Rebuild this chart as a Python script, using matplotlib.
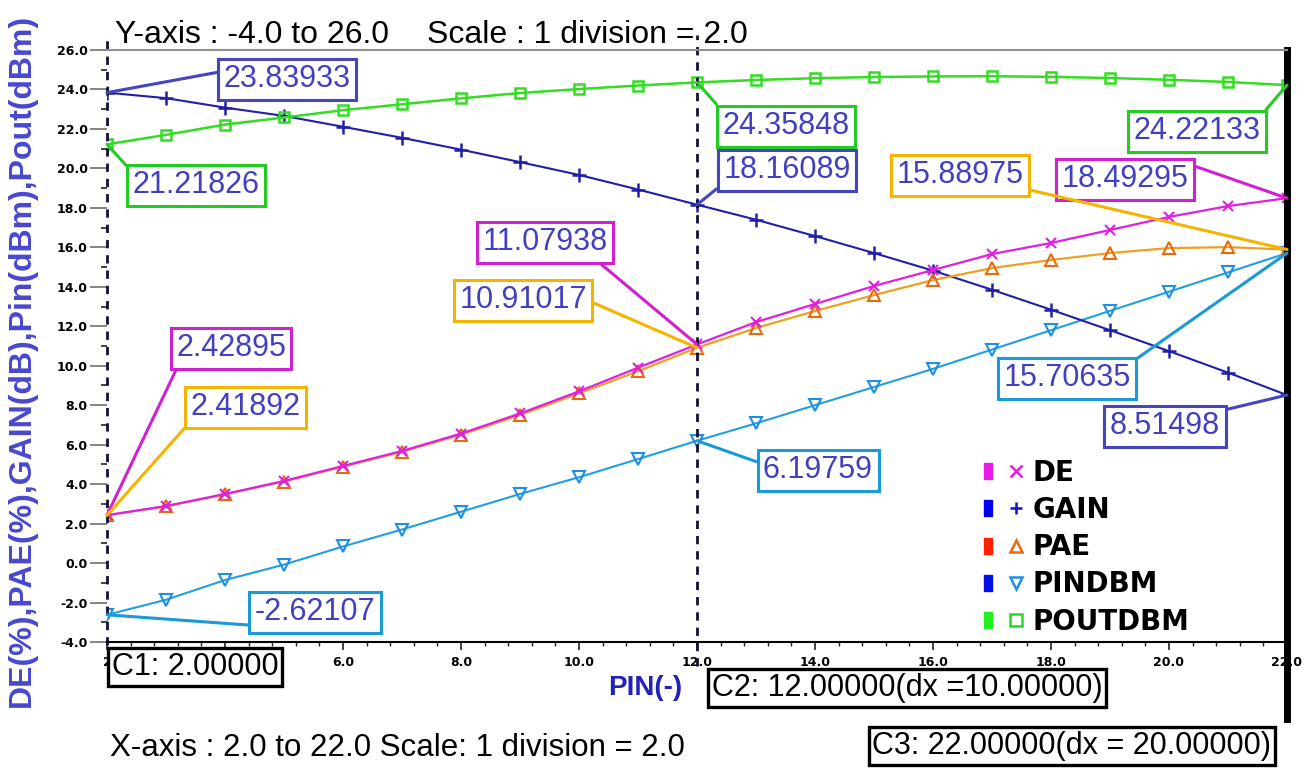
import matplotlib.pyplot as plt
from matplotlib.lines import Line2D
from matplotlib.legend_handler import HandlerTuple
from matplotlib.ticker import MultipleLocator, FormatStrFormatter, FuncFormatter

# swept input (x axis)
pin_sweep = list(range(2, 23))

# series
de = [2.42895, 2.89, 3.50, 4.16, 4.92, 5.68, 6.56, 7.58, 8.70, 9.90, 11.07938,
      12.21, 13.13, 14.04, 14.85, 15.66, 16.22, 16.88, 17.54, 18.09, 18.49295]
pae = [2.41892, 2.87, 3.48, 4.13, 4.88, 5.64, 6.50, 7.50, 8.60, 9.72, 10.91017,
       11.91, 12.77, 13.58, 14.34, 14.95, 15.36, 15.71, 15.96, 16.01, 15.88975]
gain = [23.83933, 23.56, 23.08, 22.66, 22.11, 21.55, 20.95, 20.32, 19.67, 18.93, 18.16089,
        17.40, 16.57, 15.71, 14.82, 13.85, 12.84, 11.80, 10.74, 9.65, 8.51498]
pindbm = [-2.62107, -1.86, -0.86, -0.08, 0.84, 1.70, 2.60, 3.50, 4.35, 5.27, 6.19759,
          7.08, 8.00, 8.92, 9.84, 10.82, 11.80, 12.78, 13.75, 14.73, 15.70635]
poutdbm = [21.21826, 21.70, 22.22, 22.58, 22.95, 23.25, 23.55, 23.82, 24.02, 24.20, 24.35848,
           24.48, 24.57, 24.63, 24.66, 24.67, 24.64, 24.58, 24.49, 24.38, 24.22133]

cursors = [2, 12, 22]
W, H = 1304, 769

plt.rcParams['font.family'] = ['Liberation Sans', 'DejaVu Sans']

fig = plt.figure(figsize=(W / 100, H / 100), dpi=100)
ax = fig.add_axes([107 / W, 1 - 642 / H, (1287 - 107) / W, (642 - 50) / H])

ax.plot(pin_sweep, pindbm, color='#20a0e0', lw=1.5, marker='v', ms=9, mfc='none', mec='#1f8fe0', mew=1.5)
ax.plot(pin_sweep, gain, color='#2020a8', lw=1.5, marker='+', ms=10, mew=1.8)
ax.plot(pin_sweep, poutdbm, color='#33dd22', lw=1.8, marker='s', ms=7, mfc='none', mew=1.8)
ax.plot(pin_sweep, pae, color='#f0a020', lw=1.6, marker='^', ms=8, mfc='none', mec='#e86a10', mew=1.5)
ax.plot(pin_sweep, de, color='#e020e0', lw=1.6, marker='x', ms=7, mew=1.5)

ax.set_xlim(2, 22)
ax.set_ylim(-4, 26)
ax.xaxis.set_major_locator(MultipleLocator(2))
ax.xaxis.set_minor_locator(MultipleLocator(0.4))
ax.yaxis.set_major_locator(MultipleLocator(2))
ax.yaxis.set_minor_locator(MultipleLocator(1))

# the C1 readout box hides the first labels, only the "2" peeks out
def xfmt(v, pos):
    if abs(v - 2) < 1e-6:
        return '2'
    if abs(v - 4) < 1e-6:
        return ''
    return f'{v:.1f}'
ax.xaxis.set_major_formatter(FuncFormatter(xfmt))
ax.yaxis.set_major_formatter(FormatStrFormatter('%.1f'))
ax.tick_params(axis='y', which='major', length=12, width=1.2, color='#707070', pad=2)
ax.tick_params(axis='y', which='minor', length=4, width=1.2, color='#222222')
ax.tick_params(axis='x', which='major', length=6, width=1.2, color='#222222', pad=4)
ax.tick_params(axis='x', which='minor', length=3, width=1.0, color='#222222')
for lab in ax.get_xticklabels() + ax.get_yticklabels():
    lab.set_fontfamily('DejaVu Sans')
    lab.set_fontweight('bold')
    lab.set_fontsize(9)
ax.get_xticklabels()[0].set_ha('right')

ax.spines['left'].set_visible(False)
ax.spines['right'].set_visible(False)
ax.spines['top'].set_color('#909090')
ax.spines['top'].set_linewidth(1.5)
ax.spines['bottom'].set_linewidth(1.5)

# cursors
ax.axvline(cursors[0], ymin=-0.005, ymax=1.025, color='#111133', ls=(0, (3, 2.5)), lw=2, clip_on=False)
ax.axvline(cursors[1], ymin=-0.04, ymax=1.025, color='#111133', ls=(0, (3, 2.5)), lw=2, clip_on=False)
ax.axvline(cursors[2], ymin=-0.13, ymax=1.0, color='black', lw=5, clip_on=False)

# marker readouts: (series, cursor x, box centre px, relpos)
series = {'DE': de, 'PAE': pae, 'GAIN': gain, 'PIN': pindbm, 'POUT': poutdbm}
edge = {'DE': '#d020d0', 'PAE': '#f5b400', 'GAIN': '#4545c0', 'PIN': '#1a9ad6', 'POUT': '#22cc22'}
readouts = [
    ('GAIN', 2, (287, 79), (0, 0.76)),
    ('POUT', 2, (196, 185), (0, 0.92)),
    ('DE', 2, (231, 348), (0.03, 0)),
    ('PAE', 2, (245, 407), (0, 0)),
    ('PIN', 2, (315, 612), (0, 0.05)),
    ('POUT', 12, (786, 126), (0, 1)),
    ('GAIN', 12, (787, 170), (0, 0.05)),
    ('DE', 12, (545, 242), (0.88, 0)),
    ('PAE', 12, (523, 300), (1, 0.5)),
    ('PIN', 12, (818, 470), (0, 0.7)),
    ('POUT', 22, (1197, 131), (1, 1)),
    ('DE', 22, (1125, 179), (1, 1)),
    ('PAE', 22, (960, 175), (1, 0.05)),
    ('PIN', 22, (1067, 378), (1, 1)),
    ('GAIN', 22, (1165, 426), (1, 1)),
]
for name, xv, (px, py), rp in readouts:
    yv = series[name][pin_sweep.index(xv)]
    ax.annotate(f'{yv:.5f}', xy=(xv, yv), xycoords='data',
                xytext=(px / W, 1 - py / H), textcoords='figure fraction',
                ha='center', va='center', fontsize=22, color='#4040c0',
                bbox=dict(boxstyle='square,pad=0.18', fc='white', ec=edge[name], lw=2.2),
                arrowprops=dict(arrowstyle='-', color=edge[name], lw=2.2, relpos=rp,
                                shrinkA=0, shrinkB=0),
                annotation_clip=False, zorder=5)

# cursor boxes
cbox = dict(boxstyle='square,pad=0.12', fc='white', ec='black', lw=2.4)
fig.text(195 / W, 1 - 667 / H, 'C1: 2.00000', ha='center', va='center', fontsize=22, bbox=cbox, zorder=6)
fig.text(907 / W, 1 - 688 / H, 'C2: 12.00000(dx =10.00000)', ha='center', va='center', fontsize=22, bbox=cbox, zorder=6)
fig.text(1072 / W, 1 - 746 / H, 'C3: 22.00000(dx = 20.00000)', ha='center', va='center', fontsize=22, bbox=cbox, zorder=6)

# axis texts
fig.text(115 / W, 1 - 35 / H, 'Y-axis : -4.0 to 26.0', ha='left', va='center', fontsize=23)
fig.text(427 / W, 1 - 35 / H, 'Scale : 1 division = 2.0', ha='left', va='center', fontsize=23)
fig.text(110 / W, 1 - 748 / H, 'X-axis : 2.0 to 22.0 Scale: 1 division = 2.0', ha='left', va='center', fontsize=22.5)
fig.text(22 / W, 1 - 360 / H, 'DE(%),PAE(%),GAIN(dB),Pin(dBm),Pout(dBm)', rotation=90,
         ha='center', va='center', fontsize=23, fontweight='bold', color='#4848d0')
fig.text(645 / W, 1 - 688 / H, 'PIN(-)', ha='center', va='center', fontsize=20,
         fontweight='bold', color='#2222bb')

# legend
bar = [(-0.5, -1), (0.5, -1), (0.5, 1), (-0.5, 1), (-0.5, -1)]
def entry(patch_col, mk, col, filled=True):
    p = Line2D([], [], ls='none', marker=bar, ms=12, color=patch_col)
    m = Line2D([], [], ls='none', marker=mk, ms=8, mew=1.8, color=col,
               mfc=col if filled else 'none')
    return (p, m)

handles = [entry('#e81ce8', 'x', '#e020e0'),
           entry('#0000ee', '+', '#1010d0'),
           entry('#ff2000', '^', '#e86a10', False),
           entry('#0010e0', 'v', '#1f8fe0', False),
           entry('#22ee22', 's', '#22dd22', False)]
labels = ['DE', 'GAIN', 'PAE', 'PINDBM', 'POUTDBM']
fig.legend(handles, labels, handler_map={tuple: HandlerTuple(ndivide=None, pad=0.4)},
           loc='upper left', bbox_to_anchor=(966 / W, 1 - 445 / H), frameon=False,
           borderpad=0, handlelength=1.6, handletextpad=0.3, labelspacing=0.33,
           prop={'family': 'DejaVu Sans', 'weight': 'bold', 'size': 20})

fig.savefig('out.png', dpi=100)
